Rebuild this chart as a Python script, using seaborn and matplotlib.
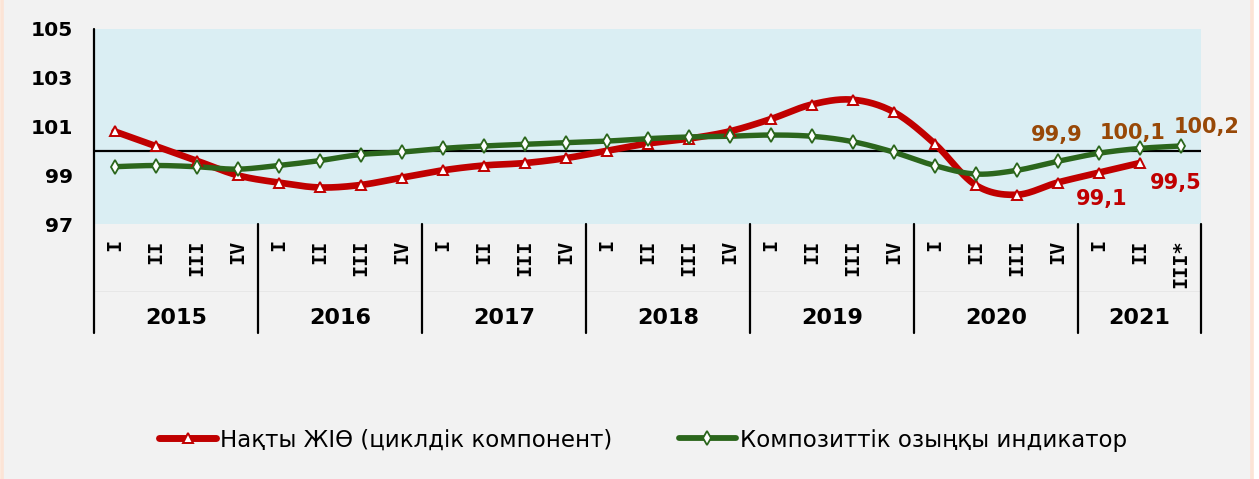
import numpy as np
import pandas as pd
import matplotlib
matplotlib.use("Agg")
import matplotlib.pyplot as plt
from matplotlib.lines import Line2D
from matplotlib.patches import Rectangle
import matplotlib.transforms as mtransforms
import seaborn as sns

# ---------------- data ----------------
quarters = ["I", "II", "III", "IV"] * 6 + ["I", "II", "III*"]
years = ["2015", "2016", "2017", "2018", "2019", "2020", "2021"]
year_sizes = [4, 4, 4, 4, 4, 4, 3]
gdp_cycle = [100.8, 100.2, 99.6, 99.0,
             98.7, 98.5, 98.6, 98.9,
             99.2, 99.4, 99.5, 99.7,
             100.0, 100.3, 100.5, 100.8,
             101.3, 101.9, 102.1, 101.6,
             100.3, 98.6, 98.2, 98.7,
             99.1, 99.5]
leading_ind = [99.35, 99.4, 99.35, 99.25,
               99.4, 99.6, 99.85, 99.95,
               100.1, 100.2, 100.27, 100.34,
               100.4, 100.5, 100.57, 100.6,
               100.65, 100.6, 100.38, 99.95,
               99.4, 99.05, 99.2, 99.57,
               99.9, 100.1, 100.2]
gdp_name = "Нақты ЖІӨ (циклдік компонент)"
lead_name = "Композиттік озыңқы индикатор"
gdp_labels = {24: "99,1", 25: "99,5"}
lead_labels = {24: "99,9", 25: "100,1", 26: "100,2"}

RED = "#C00000"
GREEN = "#2B661C"
LBL_BROWN = "#984807"


def smooth_curve(xs, ys, n=24):
    """Excel-like smoothed line (Catmull-Rom Bezier through the data points)."""
    pts = np.column_stack([xs, ys]).astype(float)
    out = []
    m = len(pts)
    for i in range(m - 1):
        p0 = pts[i - 1] if i > 0 else pts[i]
        p1 = pts[i]
        p2 = pts[i + 1]
        p3 = pts[i + 2] if i + 2 < m else pts[i + 1]
        c1 = p1 + (p2 - p0) / 6.0
        c2 = p2 - (p3 - p1) / 6.0
        t = np.linspace(0, 1, n, endpoint=(i == m - 2))[:, None]
        seg = ((1 - t) ** 3) * p1 + 3 * ((1 - t) ** 2) * t * c1 + 3 * (1 - t) * t ** 2 * c2 + t ** 3 * p2
        out.append(seg)
    out = np.vstack(out)
    return out[:, 0], out[:, 1]


sns.set_theme(style="white")
plt.rcParams["font.family"] = ["DejaVu Sans"]
plt.rcParams["text.color"] = "black"

W, H = 1259, 479
fig = plt.figure(figsize=(W / 100, H / 100), dpi=100)
fig.patch.set_facecolor("white")
# outer frame
fig.patches.append(Rectangle((1.8 / W, -5 / H), 1250 / W, 486 / H, transform=fig.transFigure,
                             facecolor="#F2F2F2", edgecolor="#FCE4D6", linewidth=2.6, zorder=-10))

L, R, T, B = 94, 1201, 29, 224
ax = fig.add_axes([L / W, 1 - B / H, (R - L) / W, (B - T) / H])
ax.set_facecolor("#DAEEF3")

x_idx = np.arange(len(quarters))
gx = np.arange(len(gdp_cycle))

# reference line at 100
ax.axhline(100, color="black", lw=1.6, zorder=1)

# smoothed lines
sx, sy = smooth_curve(gx, gdp_cycle)
df_g = pd.DataFrame({"x": sx, "y": sy})
sns.lineplot(data=df_g, x="x", y="y", sort=False, estimator=None, color=RED, lw=4.8,
             ax=ax, zorder=3, solid_capstyle="round")
lx, ly = smooth_curve(x_idx, leading_ind)
df_l = pd.DataFrame({"x": lx, "y": ly})
sns.lineplot(data=df_l, x="x", y="y", sort=False, estimator=None, color=GREEN, lw=3.9,
             ax=ax, zorder=4, solid_capstyle="round")

# markers
ax.plot(gx, gdp_cycle, ls="none", marker="^", ms=7.5, mfc="white", mec=RED, mew=1.4, zorder=5)
ax.plot(x_idx, leading_ind, ls="none", marker="d", ms=7.5, mfc="white", mec=GREEN, mew=1.3, zorder=6)

# data labels
lead_off = {24: (-30, 13), 25: (-5, 11), 26: (19, 14)}
gdp_off = {24: (2, -19), 25: (26, -14)}
for i, t in lead_labels.items():
    ax.annotate(t, (i, leading_ind[i]), xytext=lead_off[i], textcoords="offset points",
                ha="center", va="center", fontsize=15, fontweight="bold", color=LBL_BROWN, zorder=7)
for i, t in gdp_labels.items():
    ax.annotate(t, (i, gdp_cycle[i]), xytext=gdp_off[i], textcoords="offset points",
                ha="center", va="center", fontsize=15, fontweight="bold", color=RED, zorder=7)

ax.set_xlim(-0.5, len(quarters) - 0.5)
ax.set_ylim(97, 105)
ax.set_yticks([97, 99, 101, 103, 105])
ax.set_yticklabels(["97", "99", "101", "103", "105"], fontsize=14.6, fontweight="bold", color="black")
ax.tick_params(axis="y", length=0, pad=15)
ax.set_xticks(x_idx)
ax.set_xticklabels(quarters, rotation=90, va="top", ha="center", fontsize=14.5,
                   fontweight="bold", color="black", family="DejaVu Sans Mono")
ax.tick_params(axis="x", length=0, pad=11)
ax.set_xlabel("")
ax.set_ylabel("")
for s in ["top", "right", "bottom", "left"]:
    ax.spines[s].set_visible(False)

trans = mtransforms.blended_transform_factory(ax.transData, ax.transAxes)
# axis line + separators
y_low = -(333 - B) / (B - T)
ax.plot([-0.5, -0.5], [1, y_low], transform=trans, color="black", lw=1.6, clip_on=False, zorder=8)
ax.plot([-0.5, len(quarters) - 0.5], [-(291 - B) / (B - T)] * 2, transform=trans,
        color="#E6E6E6", lw=0.6, clip_on=False)
start = 0
for yr, n in zip(years, year_sizes):
    end = start + n
    ax.plot([end - 0.5, end - 0.5], [0, y_low], transform=trans, color="black", lw=1.6,
            clip_on=False)
    ax.text((start + end - 1) / 2, -(318 - B) / (B - T), yr, transform=trans, ha="center",
            va="center", fontsize=16, fontweight="bold", color="black")
    start = end

# legend
handles = [Line2D([], [], color=RED, lw=5.0, marker="^", ms=7.5, mfc="white", mec=RED, mew=1.4,
                  solid_capstyle="round"),
           Line2D([], [], color=GREEN, lw=4.2, marker="d", ms=7.5, mfc="white", mec=GREEN, mew=1.3,
                  solid_capstyle="round")]
leg = fig.legend(handles, [gdp_name, lead_name], loc="center", bbox_to_anchor=(643 / W, 1 - 440 / H),
                 ncol=2, frameon=False, fontsize=16.5, handlelength=2.5, handletextpad=0.17,
                 columnspacing=2.9)
for txt in leg.get_texts():
    txt.set_color("black")

fig.savefig("out.png", dpi=100)
